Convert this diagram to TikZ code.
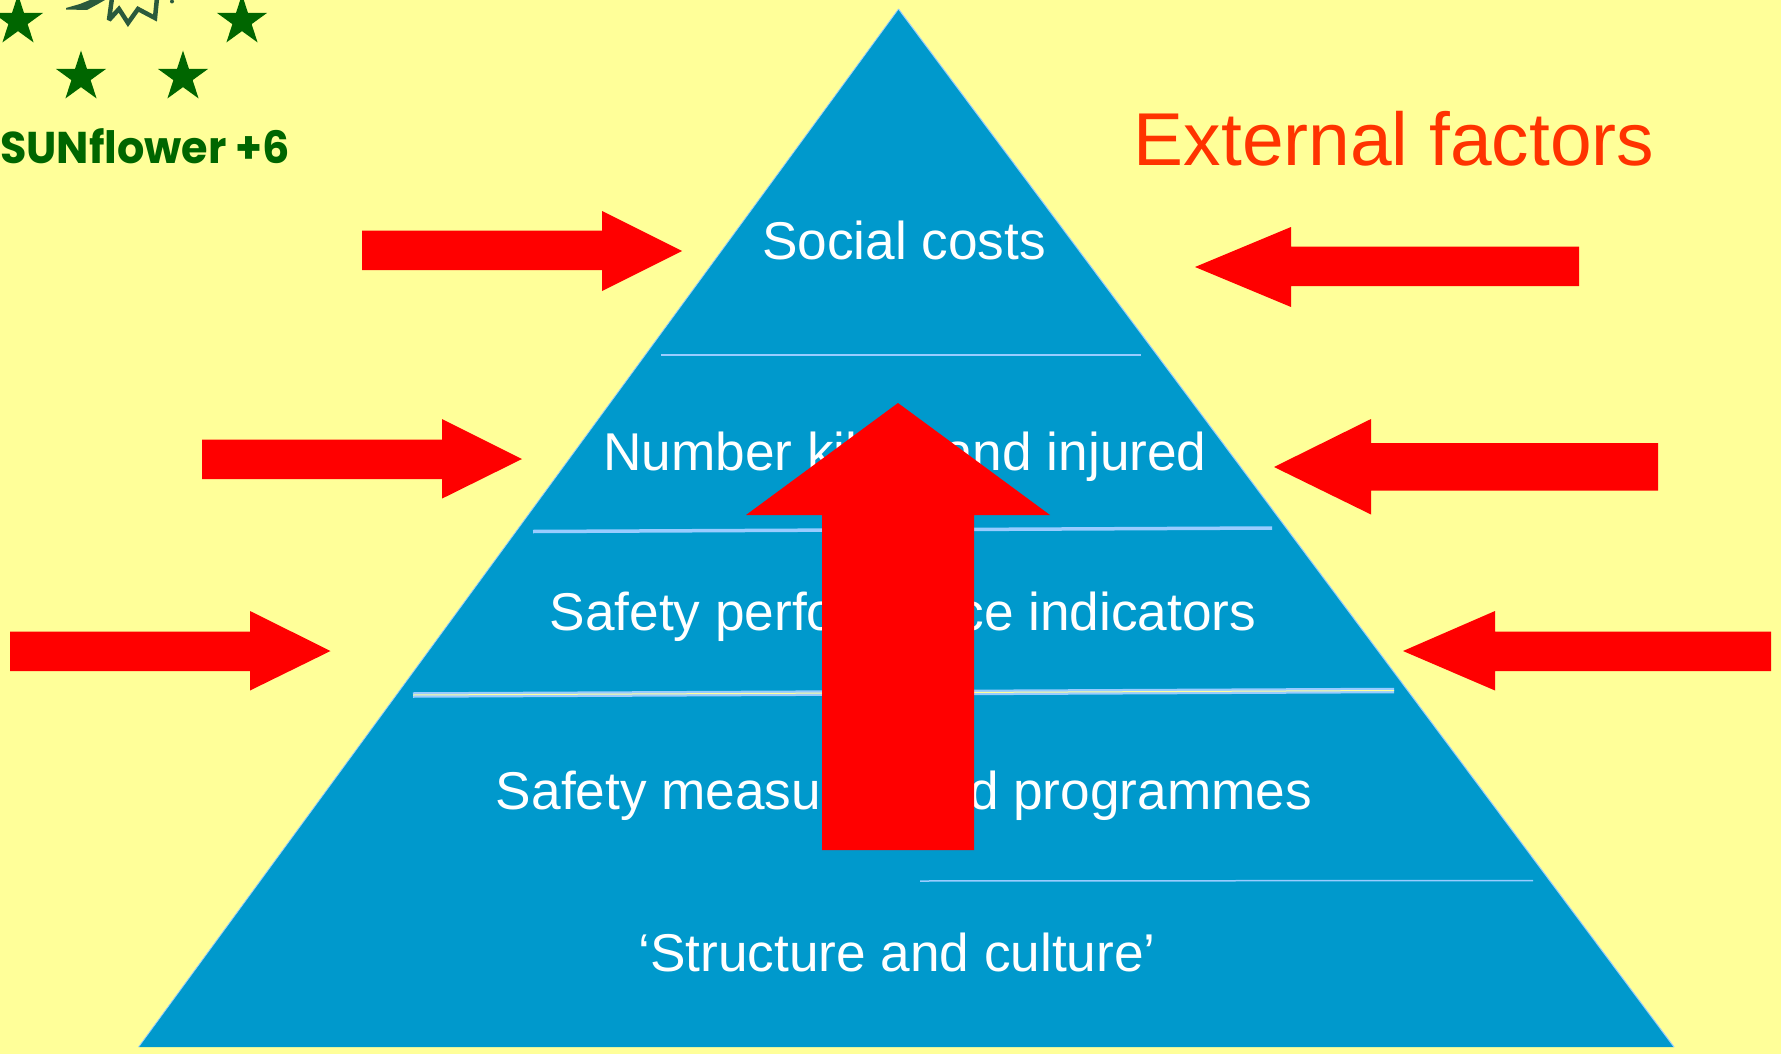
\documentclass[tikz,border=0pt]{standalone}
\usepackage{fontspec}
\setmainfont{Liberation Sans}
\newfontfamily\logofont{Poppins}
\usetikzlibrary{shapes.geometric}
\definecolor{bgyellow}{HTML}{FFFF99}
\definecolor{pyrblue}{HTML}{0099CC}
\definecolor{linblue}{HTML}{99CCFF}
\definecolor{extred}{HTML}{FF3300}
\definecolor{stargreen}{HTML}{006600}
\definecolor{flowergreen}{HTML}{2A5A3C}
\tikzset{
  x=1pt,y=-1pt,
  redarrow/.style={fill=red,draw=none},
  label/.style={text=white,inner sep=0pt,font=\fontsize{53.2}{56}\selectfont},
  tier/.style={draw=linblue,line width=#1},
  tier/.default=1.5pt,
  starshape/.style={star,star points=5,star point ratio=2.618,minimum size=53pt,inner sep=0pt,fill=stargreen,draw=none,anchor=center}
}
\begin{document}
\begin{tikzpicture}
\useasboundingbox (0,0) rectangle (1781,1054);
\fill[bgyellow] (0,0) rectangle (1781,1054);
% pyramid
\coordinate (apex) at (898.5,9);
\coordinate (bl) at (138.6,1047);
\coordinate (br) at (1674,1047);
\fill[pyrblue] (apex) -- (br) -- (bl) -- cycle;
\draw[linblue,line width=1pt] (apex) -- (br);
\draw[linblue,line width=0.8pt] (apex) -- (bl);
% tier lines
\coordinate (a1) at (661,354.5); \coordinate (a2) at (1141,354.5);
\coordinate (b1) at (533,531.5); \coordinate (b2) at (1272,528);
\coordinate (c1) at (413,695); \coordinate (c2) at (1394,690.5);
\coordinate (d1) at (920,881); \coordinate (d2) at (1533,880.5);
\draw[tier=2pt] (a1) -- (a2);
\draw[tier=3.5pt] (b1) -- (b2);
\draw[tier=5.5pt] (c1) -- (c2);
\draw[bgyellow,line width=1pt] (c1) -- (c2);
\draw[tier=1.5pt] (d1) -- (d2);
% labels
\node[label] (t1) at (904,240) {Social costs};
\node[label] (t2) at (905,456.5) {Number killed and injured};
\node[label] (t3) at (903,616.5) {Safety performance indicators};
\node[label] (t4) at (904,796) {Safety measures and programmes};
\node[label] (t5) at (897,952) {‘Structure and culture’};
\node[inner sep=0pt,text=extred,font=\fontsize{74.9}{76}\selectfont] (ext) at (1394,139) {External factors};
% up arrow
\fill[redarrow] (822,850) -- (822,515) -- (746,515) -- (898,403) -- (1050,515) -- (974,515) -- (974,850) -- cycle;
% left arrows
\fill[redarrow] (362,230.5) -- (602,230.5) -- (602,211) -- (682,251) -- (602,291) -- (602,270) -- (362,270) -- cycle;
\fill[redarrow] (202,439.5) -- (442,439.5) -- (442,419) -- (522,459) -- (442,498.6) -- (442,479) -- (202,479) -- cycle;
\fill[redarrow] (10,631.5) -- (250,631.5) -- (250,611) -- (330.5,651) -- (250,690.5) -- (250,671) -- (10,671) -- cycle;
% right arrows
\fill[redarrow] (1579,246.5) -- (1291,246.5) -- (1291,227) -- (1195,267) -- (1291,307) -- (1291,286) -- (1579,286) -- cycle;
\fill[redarrow] (1658,443) -- (1371,443) -- (1371,419) -- (1274,467) -- (1371,514.5) -- (1371,490.6) -- (1658,490.6) -- cycle;
\fill[redarrow] (1771,631.5) -- (1495,631.5) -- (1495,611) -- (1403,651) -- (1495,690.5) -- (1495,671) -- (1771,671) -- cycle;
% logo
\node[starshape] (s1) at (18,21) {};
\node[starshape] (s2) at (81,77) {};
\node[starshape] (s3) at (183,77) {};
\node[starshape] (s4) at (242,21) {};
\fill[flowergreen] (66,8) -- (80,4) -- (90,0) -- (105,0) -- (98,4) -- (87,10) -- (66,9.5) -- cycle;
\draw[flowergreen,line width=4.5pt,line join=miter,miter limit=3] (112,-2) -- (109,20) -- (119,9) -- (128,23) -- (138,9) -- (155,18) -- (157,-2);
\fill[flowergreen] (172,1.5) circle (2pt);
\node[inner sep=0pt,anchor=west,text=stargreen,xscale=.965,font=\logofont\bfseries\fontsize{44.5}{44}\selectfont] (logo) at (0,146) {SUNflower +6};
\end{tikzpicture}
\end{document}
